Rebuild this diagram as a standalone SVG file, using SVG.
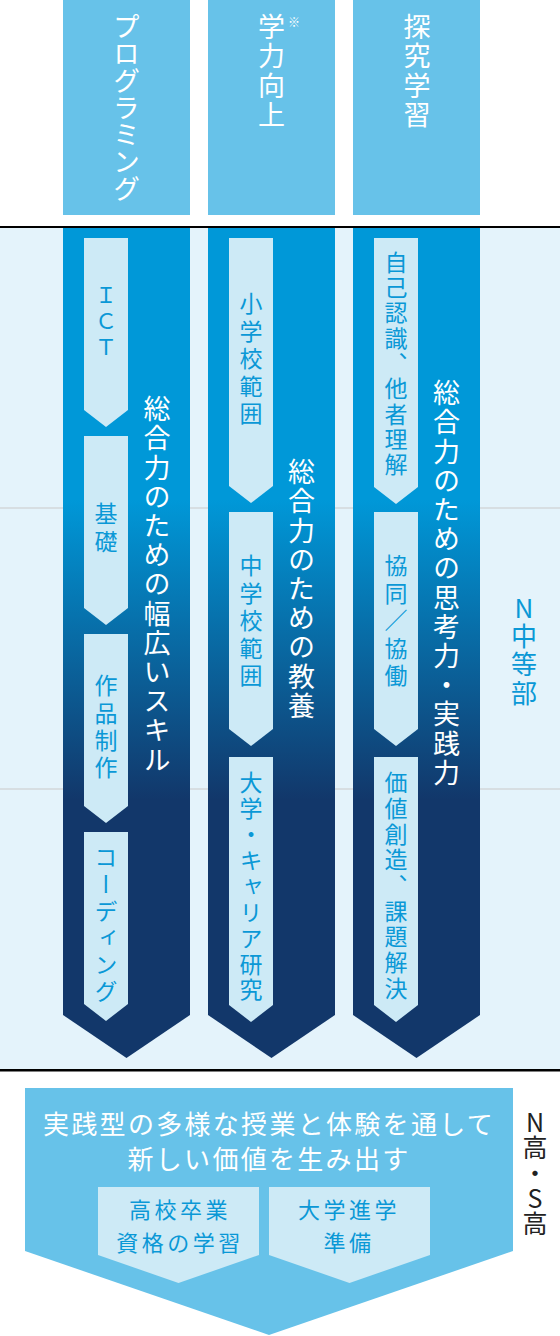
<svg xmlns="http://www.w3.org/2000/svg" width="560" height="1336" viewBox="0 0 560 1336">
<defs>
<style>
text{font-family:"Noto Sans CJK JP","Noto Sans",sans-serif;}
.v{writing-mode:vertical-rl;}
.top{fill:#67c2e9;}
.topt{fill:#ffffff;font-size:27px;}
.main{fill:#ffffff;font-size:27px;letter-spacing:2.2px;}
.inner{fill:#cdeaf6;}
.innert{fill:#0a98d6;font-size:23px;}
.side{fill:#0a98d6;font-size:26px;letter-spacing:2.3px;text-orientation:upright;}
.side2{fill:#222222;font-size:25px;letter-spacing:0.3px;text-orientation:upright;}
</style>
<linearGradient id="colgrad" gradientUnits="userSpaceOnUse" x1="0" y1="500" x2="0" y2="800">
<stop offset="0" stop-color="#0098d8"/>
<stop offset="1" stop-color="#12376a"/>
</linearGradient>
</defs>
<rect x="0" y="0" width="560" height="1336" fill="#ffffff"/>
<g id="bands">
<rect x="0" y="228" width="560" height="841" fill="#e4f3fb"/>
<rect x="0" y="507.5" width="560" height="1" fill="#c9c9c9"/>
<rect x="0" y="788.5" width="560" height="1" fill="#c9c9c9"/>
<rect x="0" y="226" width="560" height="2" fill="#000000"/>
<rect x="0" y="1069" width="560" height="2.5" fill="#000000"/>
</g>
<g id="top-programming">
<rect class="top" x="63" y="0" width="127" height="215"/>
<text class="topt v" x="126.5" y="13">プログラミング</text>
</g>
<g id="top-gakuryoku">
<rect class="top" x="208" y="0" width="127" height="215"/>
<text class="topt v" x="271.5" y="13" style="letter-spacing:2.5px">学力向上</text>
<text x="294" y="27" fill="#ffffff" font-size="12" text-anchor="middle">※</text>
</g>
<g id="top-tankyu">
<rect class="top" x="353" y="0" width="127" height="215"/>
<text class="topt v" x="417" y="13" style="letter-spacing:2.5px">探究学習</text>
</g>
<g id="col-skill">
<polygon points="63,228 190,228 190,1015 126.5,1058 63,1015" fill="url(#colgrad)"/>
<text class="main v" x="157" y="395.5">総合力のための幅広いスキル</text>
</g>
<g id="col-kyoyo">
<polygon points="208,228 335,228 335,1015 271.5,1058 208,1015" fill="url(#colgrad)"/>
<text class="main v" x="301.5" y="458.5">総合力のための教養</text>
</g>
<g id="col-shiko">
<polygon points="353,228 480,228 480,1015 416.5,1058 353,1015" fill="url(#colgrad)"/>
<text class="main v" x="446.5" y="379.5">総合力のための思考力・実践力</text>
</g>
<g id="box-ict">
<polygon class="inner" points="84,238 128,238 128,410 106,427 84,410"/>
<text class="innert v" x="106" y="284" style="font-size:22px;letter-spacing:4px">ＩＣＴ</text>
</g>
<g id="box-kiso">
<polygon class="inner" points="84,436 128,436 128,608 106,625 84,608"/>
<text class="innert v" x="106" y="502" style="letter-spacing:4.5px">基礎</text>
</g>
<g id="box-sakuhin">
<polygon class="inner" points="84,634 128,634 128,806 106,823 84,806"/>
<text class="innert v" x="106" y="674" style="letter-spacing:4.4px">作品制作</text>
</g>
<g id="box-coding">
<polygon class="inner" points="84,832 128,832 128,1004 106,1021 84,1004"/>
<text class="innert v" x="106" y="846" style="letter-spacing:3.7px">コーディング</text>
</g>
<g id="box-shogakko">
<polygon class="inner" points="229,238 273,238 273,486 251,503 229,486"/>
<text class="innert v" x="251" y="292" style="letter-spacing:4.5px">小学校範囲</text>
</g>
<g id="box-chugakko">
<polygon class="inner" points="229,512 273,512 273,729 251,746 229,729"/>
<text class="innert v" x="251" y="554" style="letter-spacing:4.5px">中学校範囲</text>
</g>
<g id="box-career">
<polygon class="inner" points="229,757 273,757 273,1005 251,1022 229,1005"/>
<text class="innert v" x="251" y="771" style="letter-spacing:2.9px">大学・キャリア研究</text>
</g>
<g id="box-jiko">
<polygon class="inner" points="374,238 418,238 418,487 396,504 374,487"/>
<text class="innert v" x="396" y="250.5" style="letter-spacing:2.3px">自己認識、他者理解</text>
</g>
<g id="box-kyodo">
<polygon class="inner" points="374,512 418,512 418,729 396,746 374,729"/>
<text class="innert v" x="396" y="554" style="letter-spacing:4.5px">協同／協働</text>
</g>
<g id="box-kachi">
<polygon class="inner" points="374,757 418,757 418,1005 396,1022 374,1005"/>
<text class="innert v" x="396" y="771" style="letter-spacing:2.7px">価値創造、課題解決</text>
</g>
<g id="label-chutobu">
<text class="side v" x="524" y="595">N中等部</text>
</g>
<g id="bottom-main">
<polygon class="top" points="25,1088 513,1088 513,1251 269,1335 25,1251"/>
<text x="269" y="1134" fill="#ffffff" font-size="26" letter-spacing="2.3" text-anchor="middle">実践型の多様な授業と体験を通して</text>
<text x="269" y="1169" fill="#ffffff" font-size="26" letter-spacing="2.3" text-anchor="middle">新しい価値を生み出す</text>
</g>
<g id="box-sotsugyo">
<polygon class="inner" points="98,1187 259,1187 259,1255 178.5,1283 98,1255"/>
<text x="180" y="1218" fill="#0a98d6" font-size="22" letter-spacing="3.5" text-anchor="middle">高校卒業</text>
<text x="180" y="1251" fill="#0a98d6" font-size="22" letter-spacing="3.5" text-anchor="middle">資格の学習</text>
</g>
<g id="box-shingaku">
<polygon class="inner" points="269,1187 430,1187 430,1255 349.5,1283 269,1255"/>
<text x="349" y="1218" fill="#0a98d6" font-size="22" letter-spacing="3.5" text-anchor="middle">大学進学</text>
<text x="349" y="1251" fill="#0a98d6" font-size="22" letter-spacing="3.5" text-anchor="middle">準備</text>
</g>
<g id="label-koko">
<text class="side2 v" x="535" y="1110">N高・S高</text>
</g>
</svg>
